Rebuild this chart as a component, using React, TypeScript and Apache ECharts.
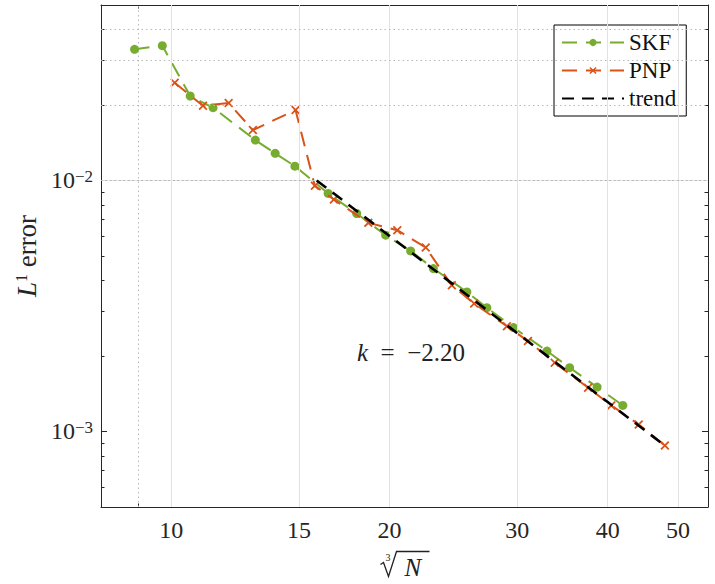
import React, { useEffect, useRef } from 'react';
import * as echarts from 'echarts';

// Convergence data: cube root of N versus L1 error
const skfX = [8.9, 9.72, 10.62, 11.42, 13.06, 13.91, 14.81, 16.46, 18.02, 19.76, 21.39, 22.99, 25.57, 27.25, 29.66, 32.98, 35.44, 38.67, 41.96];
const skfErr = [0.03331, 0.03443, 0.0217, 0.01949, 0.01448, 0.01282, 0.0114, 0.008874, 0.007385, 0.00605, 0.005237, 0.004457, 0.003594, 0.003113, 0.002593, 0.002091, 0.001795, 0.001502, 0.00127];
const pnpX = [10.11, 11.06, 12.0, 12.96, 14.84, 15.78, 16.76, 18.7, 20.5, 22.44, 24.38, 26.17, 29.04, 31.05, 33.8, 37.58, 40.45, 44.14, 47.96];
const pnpErr = [0.0245, 0.01984, 0.02033, 0.01587, 0.01908, 0.009516, 0.008397, 0.006776, 0.006335, 0.005403, 0.003823, 0.003231, 0.002624, 0.002291, 0.001879, 0.001493, 0.00127, 0.001066, 0.000879];
const trendX = [15.87, 47.96];
const trendErr = [0.01, 0.000878];
const slopeText = '−2.20';

// Axis ticks
const xTicks = [10, 15, 20, 30, 40, 50];
const xMinor = [9];
const yTicks = [0.001, 0.01];
const yMinor = [0.0006, 0.0007, 0.0008, 0.0009, 0.002, 0.003, 0.004, 0.005, 0.006, 0.007, 0.008, 0.009, 0.02, 0.03, 0.04];
const xRange = [8, 55];
const yRange = [0.0005, 0.05];

const GREEN = '#77AC30';
const ORANGE = '#D95319';
const AXIS = '#262626';
const SERIF = 'Liberation Serif';
const CROSS = 'path://M1.4,0 L5,3.6 L8.6,0 L10,1.4 L6.4,5 L10,8.6 L8.6,10 L5,6.4 L1.4,10 L0,8.6 L3.6,5 L0,1.4 Z';

function xAxisDef(position: 'top' | 'bottom', ticks: number[], len: number, main: boolean) {
  return {
    type: 'log',
    logBase: 10,
    min: xRange[0],
    max: xRange[1],
    position,
    axisLine: { show: main, onZero: false, lineStyle: { color: AXIS, width: 1 } },
    axisTick: { show: true, inside: true, length: len, customValues: ticks, lineStyle: { color: AXIS, width: 1 } },
    axisLabel: main && position === 'bottom'
      ? {
          show: true,
          customValues: xTicks,
          formatter: (v: number) => `{d|${Math.round(v)}}`,
          margin: 11,
          rich: { d: { fontFamily: SERIF, fontSize: 24, lineHeight: 24, color: AXIS } },
        }
      : { show: false },
    splitLine: { show: false },
    minorTick: { show: false },
  };
}

function yAxisDef(position: 'left' | 'right', ticks: number[], len: number, main: boolean) {
  const withLabels = main && position === 'left';
  return {
    type: 'log',
    logBase: 10,
    min: yRange[0],
    max: yRange[1],
    position,
    axisLine: { show: main, onZero: false, lineStyle: { color: AXIS, width: 1 } },
    axisTick: { show: true, inside: true, length: len, customValues: ticks, lineStyle: { color: AXIS, width: 1 } },
    axisLabel: withLabels
      ? {
          show: true,
          customValues: yTicks,
          formatter: (v: number) => `{b|10}{s|−${-Math.round(Math.log10(v))}}`,
          margin: 8,
          rich: {
            b: { fontFamily: SERIF, fontSize: 24, lineHeight: 24, color: AXIS, padding: [5, 0, 0, 0], verticalAlign: 'bottom' },
            s: { fontFamily: SERIF, fontSize: 17, lineHeight: 17, color: AXIS, verticalAlign: 'top' },
          },
        }
      : { show: false },
    name: withLabels ? '{it|L}{sup|1}{r| error}' : '',
    nameLocation: 'middle',
    nameRotate: 90,
    nameGap: 61,
    nameTextStyle: {
      rich: {
        it: { fontFamily: SERIF, fontStyle: 'italic', fontSize: 27, lineHeight: 27, color: AXIS, padding: [5, 0, 0, 0], verticalAlign: 'bottom' },
        sup: { fontFamily: SERIF, fontSize: 16, lineHeight: 16, color: AXIS, verticalAlign: 'top' },
        r: { fontFamily: SERIF, fontSize: 27, lineHeight: 27, color: AXIS, padding: [5, 0, 0, 0], verticalAlign: 'bottom' },
      },
    },
    splitLine: { show: false },
    minorTick: { show: false },
  };
}

export default function App() {
  const ref = useRef<HTMLDivElement>(null);

  useEffect(() => {
    if (!ref.current) return;
    const chart = echarts.init(ref.current, undefined, { renderer: 'svg' });

    const option = {
      animation: false,
      backgroundColor: '#ffffff',
      grid: { left: 101, right: 7, top: 5, bottom: 77, containLabel: false, outerBoundsMode: 'none' },
      xAxis: [
        xAxisDef('bottom', xTicks, 6, true),
        xAxisDef('bottom', xMinor, 3.5, false),
        xAxisDef('top', xTicks, 6, true),
        xAxisDef('top', xMinor, 3.5, false),
      ],
      yAxis: [
        yAxisDef('left', yTicks, 6, true),
        yAxisDef('left', yMinor, 3.5, false),
        yAxisDef('right', yTicks, 6, true),
        yAxisDef('right', yMinor, 3.5, false),
      ],
      legend: {
        data: [
          { name: 'SKF' },
          { name: 'PNP' },
          { name: 'trend', itemStyle: { opacity: 0 } },
        ],
        orient: 'vertical',
        left: 554,
        top: 25,
        padding: [6, 10, 6, 7],
        itemGap: 5,
        itemWidth: 62,
        itemHeight: 9,
        borderColor: '#000',
        borderWidth: 1,
        borderRadius: 0,
        backgroundColor: '#ffffff',
        textStyle: { fontFamily: SERIF, fontSize: 23, lineHeight: 22, color: '#111' },
      },
      series: [
        {
          name: 'gridMajor',
          type: 'line',
          z: 1,
          silent: true,
          data: [[xRange[0], yRange[0]]],
          showSymbol: false,
          lineStyle: { opacity: 0 },
          markLine: {
            silent: true,
            symbol: 'none',
            animation: false,
            label: { show: false },
            lineStyle: { color: '#e2e2e2', type: 'solid', width: 1 },
            data: [
              ...xTicks.map((v) => ({ xAxis: v })),
              ...yTicks.map((v) => ({ yAxis: v })),
            ],
          },
        },
        {
          name: 'gridMinor',
          type: 'line',
          z: 1,
          silent: true,
          data: [[xRange[0], yRange[0]]],
          showSymbol: false,
          lineStyle: { opacity: 0 },
          markLine: {
            silent: true,
            symbol: 'none',
            animation: false,
            label: { show: false },
            lineStyle: { color: '#b8b8b8', type: [1.5, 3], width: 1 },
            data: [
              ...xMinor.map((v) => ({ xAxis: v })),
              ...yMinor.map((v) => ({ yAxis: v })),
            ],
          },
        },
        {
          name: 'SKF',
          type: 'line',
          z: 3,
          data: skfX.map((x, i) => [x, skfErr[i]]),
          symbol: 'circle',
          symbolSize: 9,
          itemStyle: { color: GREEN },
          lineStyle: { color: GREEN, width: 2, type: [15, 9] },
        },
        {
          name: 'PNP',
          type: 'line',
          z: 4,
          data: pnpX.map((x, i) => [x, pnpErr[i]]),
          symbol: CROSS,
          symbolSize: 9,
          itemStyle: { color: ORANGE },
          lineStyle: { color: ORANGE, width: 2, type: [15, 9] },
        },
        {
          name: 'trend',
          type: 'line',
          z: 5,
          data: trendX.map((x, i) => [x, trendErr[i]]),
          symbol: 'none',
          itemStyle: { color: '#000' },
          lineStyle: { color: '#000', width: 2.6, type: [12, 8] },
        },
      ],
      graphic: [
        {
          type: 'text',
          left: 357,
          top: 340,
          z: 10,
          style: {
            text: '{i|k}{n|\u2002=\u2002' + slopeText + '}',
            rich: {
              i: { fontFamily: SERIF, fontStyle: 'italic', fontSize: 25, lineHeight: 26, fill: '#222' },
              n: { fontFamily: SERIF, fontSize: 25, lineHeight: 26, fill: '#222' },
            },
          },
        },
        {
          type: 'group',
          left: 378,
          top: 549,
          children: [
            {
              type: 'polyline',
              shape: { points: [[1, 14], [4, 12], [9, 26], [17, 1], [50, 1]] },
              style: { stroke: '#222', lineWidth: 1.3, fill: null },
            },
            {
              type: 'text',
              x: 6,
              y: 2,
              style: { text: '{t|3}', rich: { t: { fontFamily: SERIF, fontSize: 10, fill: '#222' } } },
            },
            {
              type: 'text',
              x: 25,
              y: 4,
              style: { text: '{t|N}', rich: { t: { fontFamily: SERIF, fontStyle: 'italic', fontSize: 25, fill: '#222' } } },
            },
          ],
        },
      ],
    };

    chart.setOption(option as any);
    return () => chart.dispose();
  }, []);

  return (
    <div
      ref={ref}
      style={{ position: 'fixed', left: 0, top: 0, width: 715, height: 584, background: '#fff' }}
    />
  );
}
